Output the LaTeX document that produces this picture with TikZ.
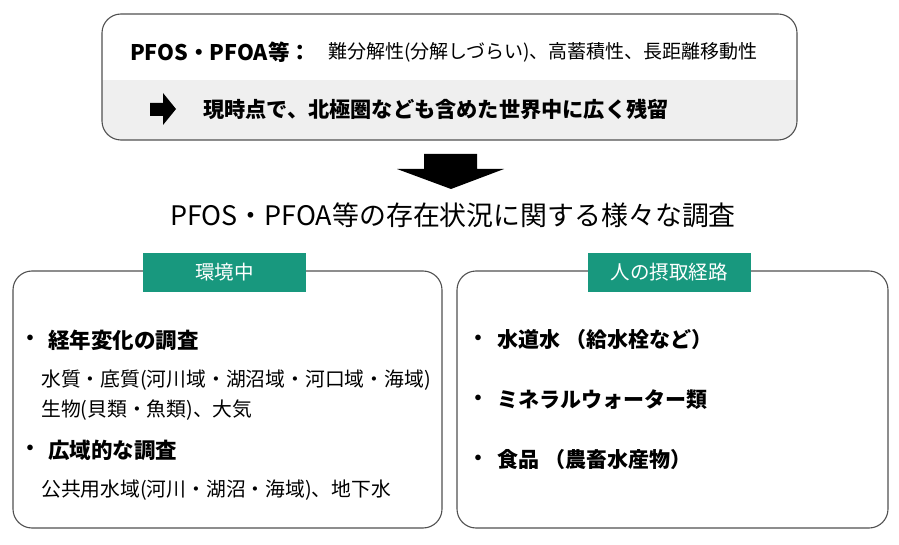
\documentclass[tikz,border=0pt]{standalone}
\usepackage{fontspec}
\setmainfont{Noto Sans CJK JP}
\definecolor{tealtab}{RGB}{24,152,126}
\definecolor{edgegray}{RGB}{80,80,80}
\definecolor{bandgray}{RGB}{239,239,239}
\tikzset{
  txt/.style={inner sep=0pt, anchor=west, text=black},
  frame/.style={draw=edgegray, line width=1.1pt, rounded corners=19pt},
  tab/.style={fill=tealtab, text=white, inner sep=0pt, minimum width=163pt, minimum height=39pt, font=\fontsize{19.5}{19.5}\selectfont},
  bul/.style={inner sep=0pt, anchor=center, font=\fontsize{20}{20}\selectfont\bfseries},
  headL/.style={txt, font=\fontsize{21.5}{21.5}\selectfont\bfseries},
  headR/.style={txt, font=\fontsize{21}{21}\selectfont\bfseries},
  sub/.style={txt, font=\fontsize{19.8}{19.8}\selectfont},
}
\begin{document}
\begin{tikzpicture}[x=1pt,y=-1pt]
\useasboundingbox (0,0) rectangle (899,545);
% top box
\begin{scope}
  \clip[rounded corners=19pt] (102,14) rectangle (797,140);
  \fill[bandgray] (102,80) rectangle (797,140);
\end{scope}
\draw[frame] (102,14) rectangle (797,140);
\node[txt, font=\fontsize{21.5}{21.5}\selectfont\bfseries] (t1a) at (130,52) {PFOS・PFOA等：};
\node[txt, font=\fontsize{19}{19}\selectfont] (t1b) at (328,52) {難分解性(分解しづらい)、高蓄積性、長距離移動性};
\fill[black] (150,103) -- (163,103) -- (163,93) -- (176,109) -- (163,125) -- (163,116) -- (150,116) -- cycle;
\node[txt, font=\fontsize{21.2}{21.2}\selectfont\bfseries] (t2) at (203,109) {現時点で、北極圏なども含めた世界中に広く残留};
% big arrow
\fill[black] (424,154) -- (477,154) -- (477,169) -- (504,169) -- (451,189) -- (397,169) -- (424,169) -- cycle;
\node[txt, font=\fontsize{26.9}{26.9}\selectfont] (title) at (170,215) {PFOS・PFOA等の存在状況に関する様々な調査};
% left box
\draw[frame] (13,271) rectangle (442,528);
\node[tab] (tabL) at (224.5,272.5) {環境中};
\node[bul] (bl1) at (30,340) {・};
\node[headL] (hl1) at (48,340) {経年変化の調査};
\node[sub] (sl1) at (41,380) {水質・底質(河川域・湖沼域・河口域・海域)};
\node[sub] (sl2) at (41,410) {生物(貝類・魚類)、大気};
\node[bul] (bl2) at (30,450) {・};
\node[headL] (hl2) at (48,450) {広域的な調査};
\node[sub] (sl3) at (41,490) {公共用水域(河川・湖沼・海域)、地下水};
% right box
\draw[frame] (457,271) rectangle (888,528);
\node[tab] (tabR) at (669,272.5) {人の摂取経路};
\node[bul] (br1) at (478,340) {・};
\node[headR] (hr1) at (497,340) {水道水 （給水栓など）};
\node[bul] (br2) at (478,400) {・};
\node[headR] (hr2) at (497,400) {ミネラルウォーター類};
\node[bul] (br3) at (478,460) {・};
\node[headR] (hr3) at (497,460) {食品 （農畜水産物）};
\end{tikzpicture}
\end{document}
